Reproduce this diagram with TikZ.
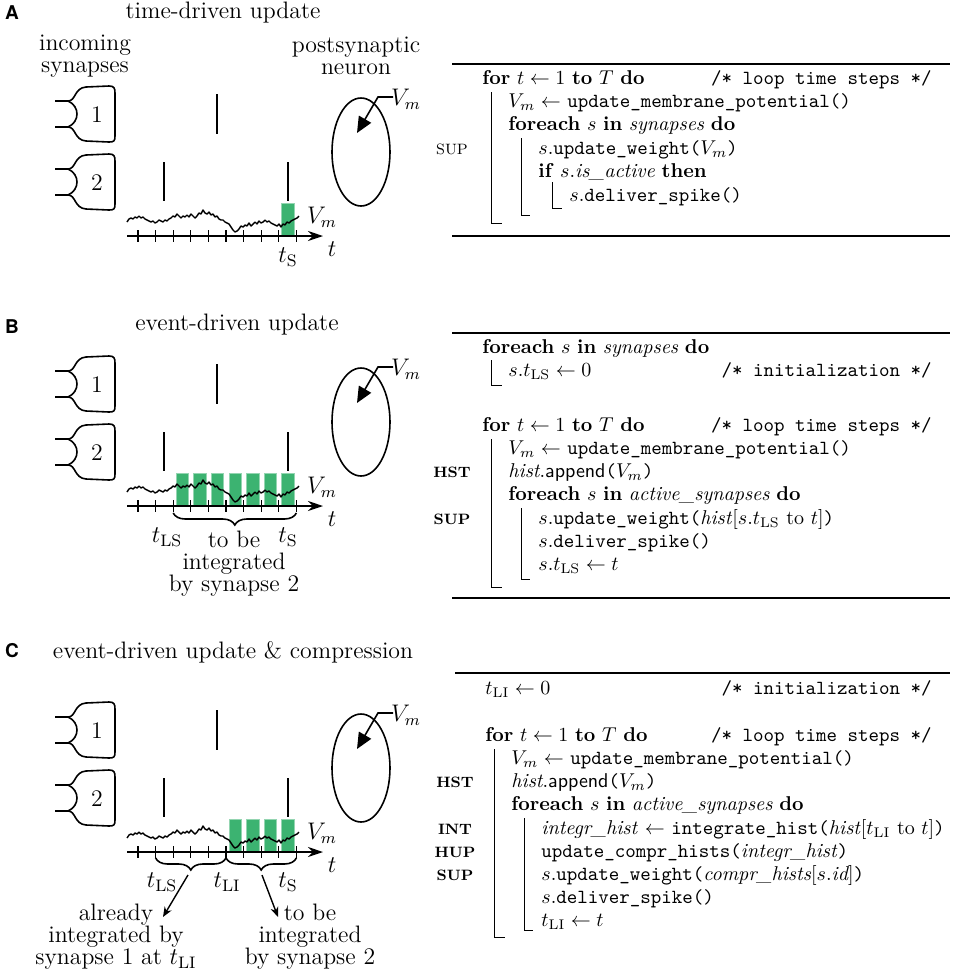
\documentclass[tikz,border=0pt]{standalone}
\usepackage{amsmath}
\usepackage{fontspec}
\usepackage{tikz}
\usetikzlibrary{positioning}
\usetikzlibrary{arrows.meta}
\usetikzlibrary{shapes.geometric}
\usetikzlibrary{decorations.pathreplacing}
\newfontfamily\helv{TeX Gyre Heros}
\definecolor{spikegreen}{RGB}{60,179,113}
\newcommand{\kw}[1]{\textbf{#1}}
\newcommand{\fn}[1]{\texttt{#1}}
\tikzset {
  % left half: sketches
  panel/.style={font=\helv\bfseries\fontsize{9.5}{11}\selectfont, inner sep=0pt},
  head/.style={font=\fontsize{11.9}{11}\selectfont, inner sep=0pt},
  syn/.style={line width=0.8pt, line join=round},
  spike/.style={line width=1pt},
  neuron/.style={draw, ellipse, line width=0.8pt, minimum width=29pt, minimum height=54pt},
  ptr/.style={line width=0.8pt, -{Triangle[length=8pt,width=7pt]}},
  greenbar/.style={fill=spikegreen, draw=spikegreen!55!white, line width=0.5pt},
  vmline/.style={line width=0.7pt, line join=round},
  taxis/.style={line width=0.8pt, -{Stealth[length=7.5pt,width=5pt]}},
  tick/.style={line width=0.6pt},
  brc/.style={decorate, decoration={brace, mirror, amplitude=6pt}, line width=0.8pt},
  note/.style={line width=0.7pt, -{Stealth[length=5pt,width=4pt]}},
  % right half: pseudo code
  algrule/.style={line width=0.8pt},
  blk/.style={line width=0.4pt},
  codeln/.style={anchor=base west, inner sep=0pt},
  cmt/.style={anchor=base east, inner sep=0pt, font=\ttfamily},
  tagl/.style={anchor=base, inner sep=0pt, font=\bfseries\fontsize{7.5}{9}\selectfont},
}

\begin{document}
\begin{tikzpicture}[x=0.5pt, y=-0.5pt]
  \useasboundingbox (0,0) rectangle (957,971);

  % titles
  \node[panel] (pa) at (12,13) {A};
  \node[head] (ha) at (223,13) {time-driven update};
  \node[panel] (pb) at (12,327) {B};
  \node[head] (hb) at (237,325) {event-driven update};
  \node[panel] (pc) at (12,651) {C};
  \node[head] (hc) at (233,652) {event-driven update \& compression};
  \node[head, align=center] (insyn) at (85,56) {incoming\\synapses};
  \node[head, align=center] (postn) at (356,56) {postsynaptic\\neuron};

  % green bars (drawn below the traces)
  \fill[greenbar] ({141+17.6*8},203) rectangle ({153.5+17.6*8},235);
  \foreach \i in {2,...,8}
    \fill[greenbar] ({141+17.6*\i},473) rectangle ({153.5+17.6*\i},505);
  \foreach \i in {5,...,8}
    \fill[greenbar] ({141+17.6*\i},819) rectangle ({153.5+17.6*\i},851);

  % parts that every panel has
  \foreach \p/\dy in {a/0,b/270,c/616} {
    \begin{scope}[shift={(0,\dy)}]
      \foreach \s/\sy in {1/0,2/68} {
        \begin{scope}[shift={(0,\sy)}]
          \draw[syn] (55,101) -- (68,101) .. controls (76,101) and (74,88) .. (86,87)
            -- (109,86) .. controls (114,86) and (115,88) .. (115,93)
            -- (115,136) .. controls (115,141) and (114,142) .. (109,142)
            -- (86,141) .. controls (74,140) and (76,127) .. (68,127) -- (55,127);
          \draw[syn] (68,101) .. controls (80,106) and (80,122) .. (68,127);
          \node[head] (syn\p\s) at (97,115) {\s};
        \end{scope}
      }
      \draw[spike] (217,94) -- (217,134);
      \draw[spike] (164,162) -- (164,201);
      \draw[spike] (288,162) -- (288,201);

      \node[neuron] (neur\p) at (361,152) {};
      \node[head] (vmn\p) at (406,99) {$V_m$};
      \coordinate (vst\p) at (393,97);
      \coordinate (bend\p) at (378,97);
      \coordinate (tip\p) at (357,133);
      \draw[ptr] (vst\p) -- (bend\p) -- (tip\p);

      \draw[vmline] plot coordinates {(127,222) (129,219) (131,218) (133,219)
        (135,217) (137,218) (139,216) (141,218) (143,217) (145,219) (147,220)
        (149,221) (151,222) (153,221) (155,223) (157,222) (159,220) (161,221)
        (163,222) (165,220) (167,221) (169,219) (171,218) (173,216) (175,217)
        (177,214) (179,216) (181,218) (183,216) (185,217) (187,215) (189,217)
        (191,214) (193,216) (195,218) (197,216) (199,213) (201,214) (203,210)
        (205,213) (207,214) (209,212) (211,215) (213,214) (215,217) (217,216)
        (219,219) (221,220) (223,220) (225,222) (227,223) (229,224) (231,227)
        (233,230) (235,232) (237,231) (239,229) (241,226) (243,227) (245,225)
        (247,226) (249,223) (251,226) (253,224) (255,222) (257,224) (259,221)
        (261,223) (263,222) (265,220) (267,222) (269,221) (271,223) (273,224)
        (275,225) (277,226) (279,224) (281,227) (283,224) (285,225) (287,222)
        (289,223) (291,221) (293,220) (295,219) (297,218) (299,216)};
      \node[head] (vmt\p) at (322,217) {$V_m$};

      \coordinate (t0\p) at (127,236);
      \coordinate (t1\p) at (323,236);
      \draw[taxis] (t0\p) -- (t1\p);
      \foreach \i in {0,...,9}
        \draw[tick] ({138+17.6*\i},230) -- ({138+17.6*\i},242);
      \node[head] (tl\p) at (332,249) {$t$};
    \end{scope}
  }

  % panel A: time labels
  \node[head] (tsa) at (288,257) {$t_{\mathrm{S}}$};

  % panel B: time labels
  \draw[brc] (173.2,513) -- (296.4,513);
  \node[head] (tlsb) at (167,537) {$t_{\mathrm{LS}}$};
  \node[head] (tsb) at (288,537) {$t_{\mathrm{S}}$};
  \node[head, align=center] (intb) at (234,564) {to be\\integrated\\by synapse 2};

  % panel C: time labels
  \draw[brc] (155.6,858) -- (226,858);
  \draw[brc] (226,858) -- (296.4,858);
  \node[head] (tlsc) at (162,882) {$t_{\mathrm{LS}}$};
  \node[head] (tlic) at (227,882) {$t_{\mathrm{LI}}$};
  \node[head] (tsc) at (288,882) {$t_{\mathrm{S}}$};
  \node[head, align=center] (donec) at (116,937) {already\\integrated by\\synapse 1 at $t_{\mathrm{LI}}$};
  \node[head, align=center] (todoc) at (310,937) {to be\\integrated\\by synapse 2};
  \coordinate (br1c) at (188,875);
  \coordinate (br2c) at (262,875);
  \coordinate (en1c) at (163,917);
  \coordinate (en2c) at (278,917);
  \draw[note] (br1c) -- (en1c);
  \draw[note] (br2c) -- (en2c);

  % algorithm A
  \draw[algrule] (452,64) -- (950,64);
  \draw[algrule] (452,236) -- (950,236);
  \node[codeln] (a1) at (482,84) {\kw{for} $t \leftarrow 1$ \kw{to} $T$ \kw{do}};
  \node[cmt] (a1c) at (932,84) {/* loop time steps */};
  \node[codeln] (a2) at (508,107) {$V_m \leftarrow$ \fn{update\_membrane\_potential()}};
  \node[codeln] (a3) at (508,130) {\kw{foreach} $s$ \kw{in} \textit{synapses} \kw{do}};
  \node[codeln] (a4) at (538,154) {$s$.\fn{update\_weight(}$V_m$\fn{)}};
  \node[codeln] (a5) at (538,177) {\kw{if} $s$.\textit{is\_active} \kw{then}};
  \node[codeln] (a6) at (569,201) {$s$.\fn{deliver\_spike()}};
  \node[tagl, font=\fontsize{7.5}{9}\selectfont] (a4t) at (452,154) {SUP};
  \draw[blk] (491,92) -- (491,223) -- ++(11,0);
  \draw[blk] (521,138) -- (521,215) -- ++(9,0);
  \draw[blk] (552,182) -- (552,208) -- ++(10,0);

  % algorithm B
  \draw[algrule] (452,333) -- (950,333);
  \draw[algrule] (452,598) -- (950,598);
  \node[codeln] (b1) at (482,353) {\kw{foreach} $s$ \kw{in} \textit{synapses} \kw{do}};
  \node[codeln] (b2) at (508,376) {$s.t_{\mathrm{LS}} \leftarrow 0$};
  \node[cmt] (b2c) at (932,376) {/* initialization */};
  \draw[blk] (491,360) -- (491,385) -- ++(11,0);
  \node[codeln] (b3) at (482,431) {\kw{for} $t \leftarrow 1$ \kw{to} $T$ \kw{do}};
  \node[cmt] (b3c) at (932,431) {/* loop time steps */};
  \node[codeln] (b4) at (508,454) {$V_m \leftarrow$ \fn{update\_membrane\_potential()}};
  \node[codeln] (b5) at (508,477) {\textit{hist}.\textsf{append}\fn{(}$V_m$\fn{)}};
  \node[tagl] (b5t) at (452,477) {HST};
  \node[codeln] (b6) at (508,500) {\kw{foreach} $s$ \kw{in} \textit{active\_synapses} \kw{do}};
  \node[codeln] (b7) at (538,524) {$s$.\fn{update\_weight(}\textit{hist}[$s.t_{\mathrm{LS}}$ to $t$]\fn{)}};
  \node[tagl] (b7t) at (452,524) {SUP};
  \node[codeln] (b8) at (538,547) {$s$.\fn{deliver\_spike()}};
  \node[codeln] (b9) at (538,570) {$s.t_{\mathrm{LS}} \leftarrow t$};
  \draw[blk] (491,439) -- (491,587) -- ++(11,0);
  \draw[blk] (521,508) -- (521,579) -- ++(9,0);

  % algorithm C
  \draw[algrule] (455,673) -- (950,673);
  \node[codeln] (c1) at (485,694) {$t_{\mathrm{LI}} \leftarrow 0$};
  \node[cmt] (c1c) at (932,694) {/* initialization */};
  \node[codeln] (c2) at (485,741) {\kw{for} $t \leftarrow 1$ \kw{to} $T$ \kw{do}};
  \node[cmt] (c2c) at (932,741) {/* loop time steps */};
  \node[codeln] (c3) at (511,764) {$V_m \leftarrow$ \fn{update\_membrane\_potential()}};
  \node[codeln] (c4) at (511,787) {\textit{hist}.\textsf{append}\fn{(}$V_m$\fn{)}};
  \node[tagl] (c4t) at (455,787) {HST};
  \node[codeln] (c5) at (511,810) {\kw{foreach} $s$ \kw{in} \textit{active\_synapses} \kw{do}};
  \node[codeln] (c6) at (541,834) {\textit{integr\_hist} $\leftarrow$ \fn{integrate\_hist(}\textit{hist}[$t_{\mathrm{LI}}$ to $t$]\fn{)}};
  \node[tagl] (c6t) at (455,834) {INT};
  \node[codeln] (c7) at (541,857) {\fn{update\_compr\_hists(}\textit{integr\_hist}\fn{)}};
  \node[tagl] (c7t) at (455,857) {HUP};
  \node[codeln] (c8) at (541,880) {$s$.\fn{update\_weight(}\textit{compr\_hists}[$s.\mathit{id}$]\fn{)}};
  \node[tagl] (c8t) at (455,880) {SUP};
  \node[codeln] (c9) at (541,903) {$s$.\fn{deliver\_spike()}};
  \node[codeln] (c10) at (541,926) {$t_{\mathrm{LI}} \leftarrow t$};
  \draw[blk] (494,749) -- (494,937) -- ++(11,0);
  \draw[blk] (524,818) -- (524,930) -- ++(9,0);
\end{tikzpicture}
\end{document}
